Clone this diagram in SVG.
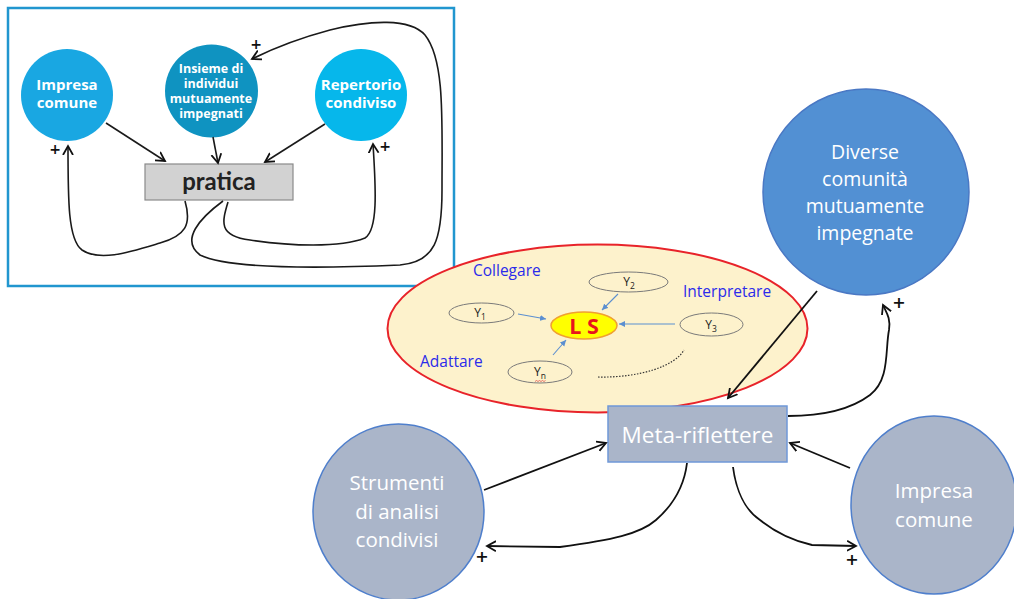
<svg xmlns="http://www.w3.org/2000/svg" width="1014" height="599" viewBox="0 0 1014 599">
  <defs>
    <style>
      .wire { fill: none; stroke: #111; stroke-width: 1.8; }
      .wire-sm { fill: none; stroke: #1a1a1a; stroke-width: 1.6; }
      .blue-link { fill: none; stroke: #5b8fd0; stroke-width: 1.1; }
      .bold-w { font-family: "Open Sans", Lato, sans-serif; font-weight: 700; fill: #fff; text-anchor: middle; }
      .light-w { font-family: "Open Sans", Lato, sans-serif; fill: #fff; text-anchor: middle; }
      .verb { font-family: "Open Sans", Lato, sans-serif; font-size: 15.5px; fill: #2b2bea; }
      .ylabel { font-family: "Open Sans", sans-serif; font-size: 12px; fill: #222; text-anchor: middle; }
      .plus { font-family: "DejaVu Sans", sans-serif; font-weight: 700; fill: #111; text-anchor: middle; }
      .yoval { fill: #fdf2cc; stroke: #7a7a7a; stroke-width: 1; }
      .grey-node { fill: #aab5c9; stroke: #4f7fcc; stroke-width: 1.5; }
    </style>
    <marker id="open-arrow" markerWidth="12" markerHeight="12" refX="9" refY="5" orient="auto" markerUnits="userSpaceOnUse" viewBox="0 0 12 10">
      <path d="M0,0 L9,5 L0,10" fill="none" stroke="#111" stroke-width="1.8"/>
    </marker>
    <marker id="small-blue" markerWidth="7" markerHeight="7" refX="6" refY="3" orient="auto" markerUnits="userSpaceOnUse" viewBox="0 0 7 6">
      <path d="M0,0 L6,3 L0,6 Z" fill="#5b8fd0"/>
    </marker>
  </defs>

  <rect width="1014" height="599" fill="#ffffff"/>

  <!-- community-of-practice inset -->
  <g id="inset">
    <rect x="8" y="8" width="446" height="278" fill="#ffffff" stroke="#2196cf" stroke-width="2.5"/>
    <g id="inset-impresa">
      <circle cx="67" cy="95" r="46" fill="#19a7e2"/>
      <text class="bold-w" font-size="15"><tspan x="67" y="90">Impresa</tspan><tspan x="67" y="108">comune</tspan></text>
    </g>
    <g id="inset-insieme">
      <circle cx="211.5" cy="91" r="46.5" fill="#0f93c1"/>
      <text class="bold-w" font-size="12.5"><tspan x="211" y="73">Insieme di</tspan><tspan x="211" y="88">individui</tspan><tspan x="211" y="103">mutuamente</tspan><tspan x="211" y="118">impegnati</tspan></text>
    </g>
    <g id="inset-repertorio">
      <circle cx="361" cy="95" r="46" fill="#06b7eb"/>
      <text class="bold-w" font-size="15"><tspan x="361" y="90">Repertorio</tspan><tspan x="361" y="108">condiviso</tspan></text>
    </g>
    <g id="inset-pratica">
      <rect x="145" y="164" width="148" height="36" fill="#d2d2d2" stroke="#8a8a8a" stroke-width="1.2"/>
      <text x="219" y="190" font-family="Lato, 'Open Sans', sans-serif" font-weight="700" font-size="24" fill="#222" text-anchor="middle">pratica</text>
    </g>
    <g id="inset-connectors">
      <path class="wire-sm" d="M106,123 L165,161" marker-end="url(#open-arrow)"/>
      <path class="wire-sm" d="M213,137 L218,163" marker-end="url(#open-arrow)"/>
      <path class="wire-sm" d="M325,124 L265,162" marker-end="url(#open-arrow)"/>
      <path class="wire-sm" d="M185,201 C192,225 185,236 160,243 C130,252 100,262 82,250 C68,240 68,200 68,146" marker-end="url(#open-arrow)"/>
      <path class="wire-sm" d="M228,202 C222,222 218,236 250,240 C290,246 340,248 365,238 C378,230 376,190 373,144" marker-end="url(#open-arrow)"/>
      <path class="wire-sm" d="M223,201 C200,218 180,240 200,255 C230,270 330,268 400,265 C435,262 442,240 442,190 C442,120 445,60 425,35 C410,18 370,20 330,30 C300,38 270,50 252,59" marker-end="url(#open-arrow)"/>
      <text class="plus" font-size="14" x="256" y="49">+</text>
      <text class="plus" font-size="14" x="55" y="154">+</text>
      <text class="plus" font-size="14" x="385" y="151">+</text>
    </g>
  </g>

  <!-- learning space -->
  <g id="learning-space">
    <ellipse cx="597.5" cy="328.5" rx="210" ry="84" fill="#fdf2cc" stroke="#e8232a" stroke-width="2"/>
    <text class="verb" x="473" y="276">Collegare</text>
    <text class="verb" x="683" y="297">Interpretare</text>
    <text class="verb" x="420" y="367">Adattare</text>
    <g id="y1">
      <ellipse class="yoval" cx="481.5" cy="313" rx="32.5" ry="10"/>
      <text class="ylabel" x="480" y="317">Y<tspan font-size="8.5" dy="3">1</tspan></text>
    </g>
    <g id="y2">
      <ellipse class="yoval" cx="628.5" cy="282" rx="39.5" ry="10"/>
      <text class="ylabel" x="629" y="286">Y<tspan font-size="8.5" dy="3">2</tspan></text>
    </g>
    <g id="y3">
      <ellipse class="yoval" cx="711.5" cy="324.5" rx="31.5" ry="11.5"/>
      <text class="ylabel" x="711" y="329">Y<tspan font-size="8.5" dy="3">3</tspan></text>
    </g>
    <g id="yn">
      <ellipse class="yoval" cx="540" cy="372" rx="32" ry="11"/>
      <text class="ylabel" x="540" y="376">Y<tspan font-size="8.5" dy="3">n</tspan></text>
      <path d="M535,381.5 l1.5,-1 l1.5,1 l1.5,-1 l1.5,1 l1.5,-1 l1.5,1 l1.5,-1" fill="none" stroke="#e04040" stroke-width="0.7"/>
    </g>
    <g id="ls">
      <ellipse cx="584" cy="325.5" rx="33" ry="13.5" fill="#ffff00" stroke="#f0a030" stroke-width="1.5"/>
      <text x="584" y="333.5" font-family="'Open Sans', Lato, sans-serif" font-weight="700" font-size="21.5" fill="#e8141c" text-anchor="middle">L S</text>
    </g>
    <g id="ls-links">
      <path class="blue-link" d="M518,314 L546,319" marker-end="url(#small-blue)"/>
      <path class="blue-link" d="M618,294 L602,310" marker-end="url(#small-blue)"/>
      <path class="blue-link" d="M675,324 L619,324" marker-end="url(#small-blue)"/>
      <path class="blue-link" d="M553,355 L566,340" marker-end="url(#small-blue)"/>
      <path d="M598,377 C640,378 675,366 684,350" fill="none" stroke="#333" stroke-width="1.2" stroke-dasharray="1.5,1.5"/>
    </g>
  </g>

  <!-- main nodes -->
  <g id="diverse">
    <circle cx="866" cy="192" r="103" fill="#5290d3" stroke="#4a78c4" stroke-width="1.5"/>
    <text class="light-w" font-size="19.5"><tspan x="865" y="159">Diverse</tspan><tspan x="865" y="186">comunità</tspan><tspan x="865" y="213">mutuamente</tspan><tspan x="865" y="240">impegnate</tspan></text>
  </g>
  <g id="meta">
    <rect x="608" y="406" width="179" height="56" fill="#aab5c9" stroke="#6f98d8" stroke-width="1.5"/>
    <text class="light-w" font-size="22.5" x="697.5" y="443">Meta-riflettere</text>
  </g>
  <g id="strumenti">
    <ellipse class="grey-node" cx="398.5" cy="512" rx="85.5" ry="88"/>
    <text class="light-w" font-size="20.5"><tspan x="397" y="490">Strumenti</tspan><tspan x="397" y="519">di analisi</tspan><tspan x="397" y="547">condivisi</tspan></text>
  </g>
  <g id="impresa">
    <ellipse class="grey-node" cx="934" cy="505" rx="83" ry="89"/>
    <text class="light-w" font-size="20.5"><tspan x="934" y="498">Impresa</tspan><tspan x="934" y="527">comune</tspan></text>
  </g>

  <!-- main connectors -->
  <g id="connectors">
    <path class="wire" d="M817,291 L728,398" marker-end="url(#open-arrow)"/>
    <path class="wire" d="M788,416 C820,416 850,410 870,395 C890,380 885,350 889,330 C891,318 886,312 883,305" marker-end="url(#open-arrow)"/>
    <path class="wire" d="M484,490 L606,443" marker-end="url(#open-arrow)"/>
    <path class="wire" d="M850,468 L790,443" marker-end="url(#open-arrow)"/>
    <path class="wire" d="M687,463 C684,488 672,506 656,520 C640,534 612,540 560,547 L487,546" marker-end="url(#open-arrow)"/>
    <path class="wire" d="M733,467 C736,490 745,510 760,520 C775,532 790,540 812,545 L856,546" marker-end="url(#open-arrow)"/>
    <text class="plus" font-size="16" x="482" y="562">+</text>
    <text class="plus" font-size="16" x="899" y="308">+</text>
    <text class="plus" font-size="16" x="852" y="565">+</text>
  </g>
</svg>
